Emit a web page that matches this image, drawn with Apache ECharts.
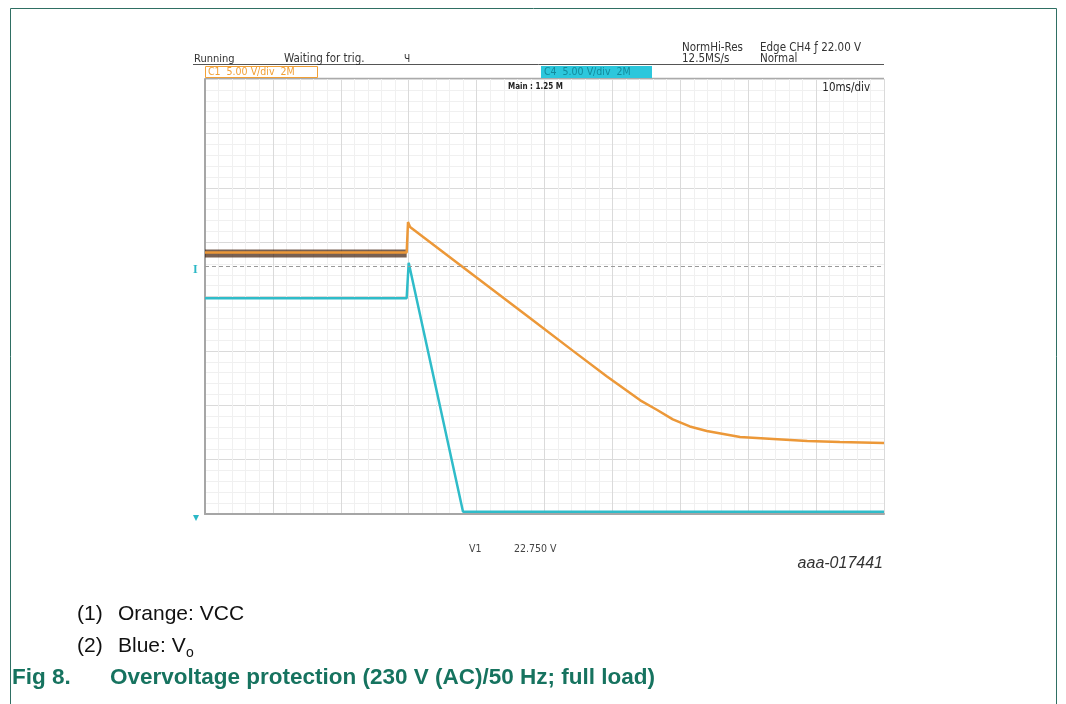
<!DOCTYPE html>
<html>
<head>
<meta charset="utf-8">
<script src="https://cdn.jsdelivr.net/npm/echarts@6/dist/echarts.min.js"></script>
<style>
html,body{margin:0;padding:0;background:#fff;}
#chart{width:1066px;height:704px;}
</style>
</head>
<body>
<div id="chart"></div>
<script>
// ---- data (time in ms, voltage in V; 10 ms/div, 5 V/div) ----
const vccTime = [0, 29.7, 29.9, 30.2, 38.0, 47.9, 54.2, 59.2, 64.1, 66.6, 68.9, 71.4, 73.9, 78.8, 83.7, 88.7, 93.5, 100];
const vccVolt = [24.05, 24.05, 26.85, 26.4, 22.7, 18.0, 15.0, 12.65, 10.45, 9.56, 8.7, 8.05, 7.63, 7.08, 6.9, 6.71, 6.62, 6.53];
const vccNoiseTime = [0, 29.7];
const vccNoiseMid = [23.95, 23.95];
const voTime = [0, 29.7, 30.0, 38.0, 100];
const voVolt = [19.85, 19.85, 23.1, 0.2, 0.2];
const triggerLevel = 22.75;
const xTicks = {min: 0, max: 100, step: 10};
const yTicks = {min: 0, max: 40, step: 5};

const zip = (a, b) => a.map((v, i) => [v, b[i]]);

const chart = echarts.init(document.getElementById('chart'), null, {renderer: 'canvas'});
const hdrFont = "'Liberation Sans Narrow','DejaVu Sans Condensed','Liberation Sans',sans-serif";
const capFont = "'Liberation Sans',Arial,sans-serif";

const option = {
  backgroundColor: '#ffffff',
  animation: false,
  grid: {left: 205, top: 79, width: 679, height: 435, containLabel: false},
  xAxis: {
    type: 'value', min: xTicks.min, max: xTicks.max, interval: xTicks.step,
    axisLine: {show: true, onZero: false, lineStyle: {color: '#a6a6a6', width: 2}},
    axisTick: {show: false}, axisLabel: {show: false},
    splitLine: {show: true, lineStyle: {color: '#dadada', width: 1}},
    minorTick: {show: false, splitNumber: 5},
    minorSplitLine: {show: true, lineStyle: {color: '#f0f0f0', width: 1}}
  },
  yAxis: {
    type: 'value', min: yTicks.min, max: yTicks.max, interval: yTicks.step,
    axisLine: {show: true, onZero: false, lineStyle: {color: '#a6a6a6', width: 2}},
    axisTick: {show: false}, axisLabel: {show: false},
    splitLine: {show: true, lineStyle: {color: '#dadada', width: 1}},
    minorTick: {show: false, splitNumber: 5},
    minorSplitLine: {show: true, lineStyle: {color: '#f0f0f0', width: 1}}
  },
  series: [
    {
      name: 'noise', type: 'line', symbol: 'none', silent: true, z: 2,
      data: zip(vccNoiseTime, vccNoiseMid),
      lineStyle: {color: '#3f1c08', width: 8, opacity: 0.7}
    },
    {
      name: 'Vo', type: 'line', symbol: 'none', data: zip(voTime, voVolt),
      lineStyle: {color: '#2fbcc9', width: 2.5}, z: 3,
      markLine: {
        silent: true, symbol: ['none', 'none'], label: {show: false},
        lineStyle: {type: [4, 3], color: '#9a9a9a', width: 1},
        data: [{yAxis: triggerLevel}]
      }
    },
    {
      name: 'VCC', type: 'line', symbol: 'none', data: zip(vccTime, vccVolt),
      lineStyle: {color: '#ec9838', width: 2.5}, z: 4
    }
  ],
  graphic: [
    // frame
    {type: 'polyline', shape: {points: [[10.5, 704], [10.5, 8.5], [1056.5, 8.5], [1056.5, 704]]},
     style: {stroke: '#2f6f63', lineWidth: 1, fill: null}, silent: true},
    // header lines
    {type: 'line', shape: {x1: 193, y1: 64.5, x2: 884, y2: 64.5}, style: {stroke: '#555', lineWidth: 1}},
    {type: 'line', shape: {x1: 205, y1: 78.5, x2: 884, y2: 78.5}, style: {stroke: '#aaa', lineWidth: 1.5}},
    // header texts
    {type: 'text', x: 194, y: 59, style: {text: 'Running', font: '11px ' + hdrFont, fill: '#333', textVerticalAlign: 'middle'}},
    {type: 'text', x: 284, y: 59, style: {text: 'Waiting for trig.', font: '11.5px ' + hdrFont, fill: '#333', textVerticalAlign: 'middle'}},
    {type: 'text', x: 404, y: 59, style: {text: 'Ч', font: '10px ' + hdrFont, fill: '#333', textVerticalAlign: 'middle'}},
    {type: 'text', x: 682, y: 48, style: {text: 'NormHi-Res', font: '11.5px ' + hdrFont, fill: '#333', textVerticalAlign: 'middle'}},
    {type: 'text', x: 682, y: 59, style: {text: '12.5MS/s', font: '11.5px ' + hdrFont, fill: '#333', textVerticalAlign: 'middle'}},
    {type: 'text', x: 760, y: 48, style: {text: 'Edge CH4 \u0192 22.00 V', font: '11.5px ' + hdrFont, fill: '#333', textVerticalAlign: 'middle'}},
    {type: 'text', x: 760, y: 59, style: {text: 'Normal', font: '11.5px ' + hdrFont, fill: '#333', textVerticalAlign: 'middle'}},
    // channel boxes
    {type: 'rect', shape: {x: 205.5, y: 66.5, width: 112, height: 11}, style: {fill: '#fff', stroke: '#f2a035', lineWidth: 1}},
    {type: 'text', x: 208, y: 72, style: {text: 'C1  5.00 V/div  2M', font: '10.5px ' + hdrFont, fill: '#f2a035', textVerticalAlign: 'middle'}},
    {type: 'rect', shape: {x: 541, y: 66, width: 111, height: 12}, style: {fill: '#2cc7dc'}},
    {type: 'text', x: 544, y: 72, style: {text: 'C4  5.00 V/div  2M', font: '10.5px ' + hdrFont, fill: '#138a9c', textVerticalAlign: 'middle'}},
    // in-plot labels
    {type: 'text', x: 508, y: 87, style: {text: 'Main : 1.25 M', font: 'bold 8px ' + hdrFont, fill: '#222', textVerticalAlign: 'middle'}, z: 10},
    {type: 'text', x: 870, y: 88, style: {text: '10ms/div', font: '11.5px ' + hdrFont, fill: '#222', textAlign: 'right', textVerticalAlign: 'middle'}, z: 10},
    // left markers
    {type: 'text', x: 193, y: 270, style: {text: 'I', font: 'bold 12px serif', fill: '#2bb8c6', textVerticalAlign: 'middle'}},
    {type: 'text', x: 193, y: 518, style: {text: '\u25BE', font: '12px sans-serif', fill: '#2bb8c6', textVerticalAlign: 'middle'}},
    // bottom readout
    {type: 'text', x: 469, y: 549, style: {text: 'V1', font: '10.5px ' + hdrFont, fill: '#444', textVerticalAlign: 'middle'}},
    {type: 'text', x: 514, y: 549, style: {text: '22.750 V', font: '10.5px ' + hdrFont, fill: '#444', textVerticalAlign: 'middle'}},
    {type: 'text', x: 883, y: 564, style: {text: 'aaa-017441', font: 'italic 16px ' + capFont, fill: '#333', textAlign: 'right', textVerticalAlign: 'middle'}},
    // caption notes
    {type: 'text', x: 77, y: 614, style: {text: '(1)', font: '21px ' + capFont, fill: '#111', textVerticalAlign: 'middle'}},
    {type: 'text', x: 118, y: 614, style: {text: 'Orange: VCC', font: '21px ' + capFont, fill: '#111', textVerticalAlign: 'middle'}},
    {type: 'text', x: 77, y: 646, style: {text: '(2)', font: '21px ' + capFont, fill: '#111', textVerticalAlign: 'middle'}},
    {type: 'text', x: 118, y: 646, style: {text: 'Blue: V', font: '21px ' + capFont, fill: '#111', textVerticalAlign: 'middle'}},
    {type: 'text', x: 186, y: 653, style: {text: 'o', font: '14px ' + capFont, fill: '#111', textVerticalAlign: 'middle'}},
    {type: 'text', x: 12, y: 678, style: {text: 'Fig 8.', font: 'bold 22.5px ' + capFont, fill: '#16735f', textVerticalAlign: 'middle'}},
    {type: 'text', x: 110, y: 678, style: {text: 'Overvoltage protection (230 V (AC)/50 Hz; full load)', font: 'bold 22.5px ' + capFont, fill: '#16735f', textVerticalAlign: 'middle'}}
  ]
};
chart.setOption(option);
</script>
</body>
</html>
